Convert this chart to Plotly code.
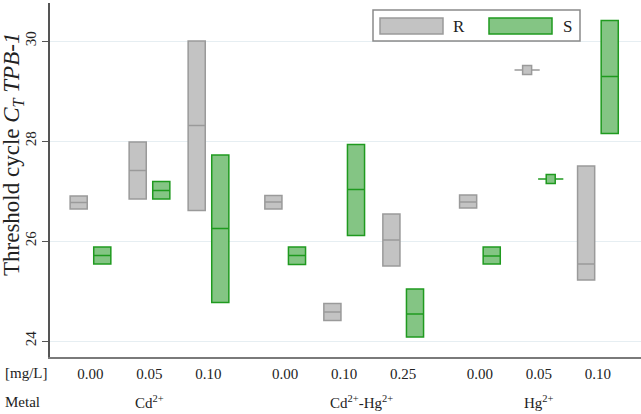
import plotly.graph_objects as go

# x positions of the nine treatment groups (three metals, gap between metals)
pos = [0, 1, 2, 3.3, 4.3, 5.3, 6.6, 7.6, 8.6]
conc = ['0.00', '0.05', '0.10', '0.00', '0.10', '0.25', '0.00', '0.05', '0.10']
metals = ['Cd<sup>2+</sup>', 'Cd<sup>2+</sup>-Hg<sup>2+</sup>', 'Hg<sup>2+</sup>']
metal_first = [0, 3, 6]

R_q1 = [26.64, 26.84, 26.61, 26.64, 24.41, 25.50, 26.66, 29.35, 25.22]
R_med = [26.77, 27.41, 28.31, 26.78, 24.58, 26.02, 26.78, 29.42, 25.54]
R_q3 = [26.90, 27.98, 30.00, 26.91, 24.75, 26.54, 26.92, 29.50, 27.50]

S_q1 = [25.54, 26.84, 24.77, 25.53, 26.11, 24.08, 25.54, 27.16, 28.15]
S_med = [25.71, 27.01, 26.25, 25.71, 27.03, 24.54, 25.70, 27.24, 29.29]
S_q3 = [25.88, 27.19, 27.72, 25.88, 27.93, 25.04, 25.88, 27.33, 30.41]

R_fill, R_line = '#c3c3c3', '#9a9a9a'
S_fill, S_line = '#84c584', '#1f9a1f'
SERIF = 'Liberation Serif'

W, H = 641, 414
ML, MR, MT, MB = 50, 0, 3, 57
off = 0.2
tiny = 7  # the 0.05 Hg group has a near-zero spread


def px_x(v):
    return (v - ML) / (W - ML - MR)


def px_y(v):
    return (H - MB - v) / (H - MT - MB)


fig = go.Figure()

for name, q1, med, q3, fill, line, sgn in [
        ('R', R_q1, R_med, R_q3, R_fill, R_line, -1),
        ('S', S_q1, S_med, S_q3, S_fill, S_line, 1)]:
    idx = [i for i in range(len(pos)) if i != tiny]
    xs = [pos[i] + sgn * off for i in idx]
    fig.add_trace(go.Box(
        x=xs, q1=[q1[i] for i in idx], median=[med[i] for i in idx],
        q3=[q3[i] for i in idx],
        lowerfence=[q1[i] for i in idx], upperfence=[q3[i] for i in idx],
        width=0.29, whiskerwidth=0, boxpoints=False,
        fillcolor=fill, line=dict(color=line, width=1.5),
        name=name, showlegend=False, hoverinfo='skip'))
    xt = [pos[tiny] + sgn * off]
    fig.add_trace(go.Scatter(
        x=xt, y=[med[tiny]], mode='markers',
        marker=dict(symbol='line-ew', size=18, line=dict(color=line, width=1.5)),
        showlegend=False, hoverinfo='skip'))
    fig.add_trace(go.Scatter(
        x=xt, y=[med[tiny]], mode='markers',
        marker=dict(symbol='square', size=9, color=fill, line=dict(color=line, width=1.5)),
        showlegend=False, hoverinfo='skip'))

annotations = [
    dict(text='Threshold cycle <i>C</i><sub><i>T</i></sub> <i>TPB-1</i>',
         xref='paper', yref='paper', x=px_x(13), y=px_y(155), textangle=-90,
         showarrow=False, font=dict(family=SERIF, size=23, color='#222'),
         xanchor='center', yanchor='middle'),
    dict(text='[mg/L]', xref='paper', yref='paper', x=px_x(3), y=px_y(373),
         showarrow=False, xanchor='left', yanchor='middle',
         font=dict(family=SERIF, size=15, color='#222')),
    dict(text='Metal', xref='paper', yref='paper', x=px_x(3), y=px_y(402),
         showarrow=False, xanchor='left', yanchor='middle',
         font=dict(family=SERIF, size=15, color='#222')),
]
for m, i in zip(metals, metal_first):
    annotations.append(dict(
        text=m, xref='x', yref='paper', x=pos[i + 1] - 0.28, y=px_y(402),
        showarrow=False, xanchor='left', yanchor='middle',
        font=dict(family=SERIF, size=15, color='#222')))

# legend drawn as wide swatches like the original
shapes = [
    dict(type='rect', xref='paper', yref='paper', x0=px_x(373), x1=px_x(580),
         y0=px_y(41), y1=px_y(10), line=dict(color='#8a8a8a', width=1.5),
         fillcolor='white', layer='above'),
    dict(type='rect', xref='paper', yref='paper', x0=px_x(380), x1=px_x(443),
         y0=px_y(34), y1=px_y(18), line=dict(color=R_line, width=1.5),
         fillcolor=R_fill, layer='above'),
    dict(type='rect', xref='paper', yref='paper', x0=px_x(489), x1=px_x(552),
         y0=px_y(34), y1=px_y(18), line=dict(color=S_line, width=1.5),
         fillcolor=S_fill, layer='above'),
]
for t, xp in [('R', 459), ('S', 567)]:
    annotations.append(dict(
        text=t, xref='paper', yref='paper', x=px_x(xp), y=px_y(26),
        showarrow=False, xanchor='center', yanchor='middle',
        font=dict(family=SERIF, size=17, color='#222')))

fig.update_layout(
    width=W, height=H,
    margin=dict(l=ML, r=MR, t=MT, b=MB, autoexpand=False),
    plot_bgcolor='white', paper_bgcolor='white',
    boxmode='overlay',
    font=dict(family=SERIF, size=15, color='#222'),
    annotations=annotations, shapes=shapes,
    xaxis=dict(range=[-0.686, 9.33], tickvals=pos, ticktext=conc, ticks='',
               showgrid=False, zeroline=False, showline=True, automargin=False,
               linecolor='#7a7a7a', linewidth=2, ticklabelstandoff=2,
               tickfont=dict(family=SERIF, size=15, color='#222')),
    yaxis=dict(range=[23.68, 30.76], tickvals=[24, 26, 28, 30], tickangle=-90,
               ticks='outside', ticklen=6, tickcolor='#555', showline=True,
               automargin=False,
               linecolor='#555', linewidth=1.5, gridcolor='#e6eef2',
               zeroline=False, tickfont=dict(family=SERIF, size=15, color='#222')),
)

# the page body has a default 8px margin; drop it so the figure fills the window
fig.write_html('out.html', config={'displayModeBar': False},
               post_script="document.body.style.margin='0';"
               "document.body.style.overflow='hidden';")
